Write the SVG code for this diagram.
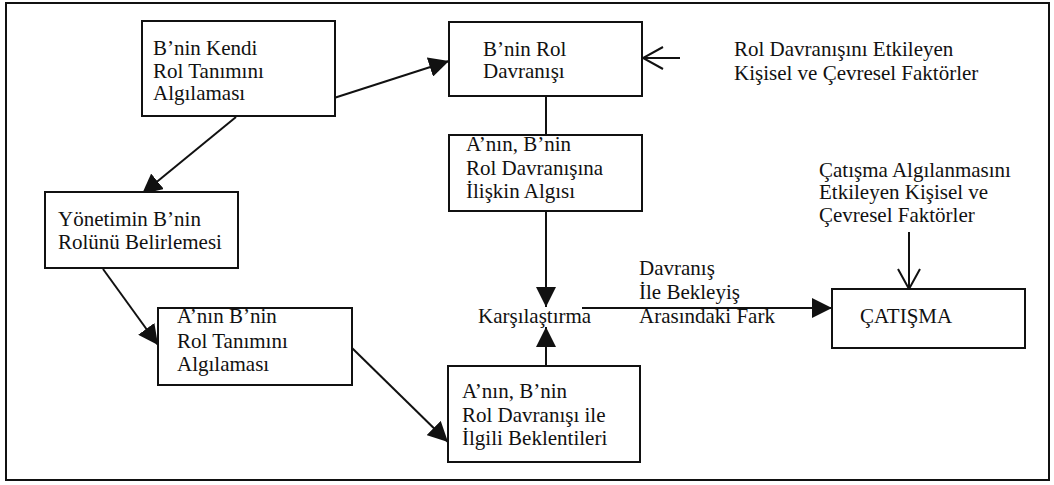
<svg xmlns="http://www.w3.org/2000/svg" width="1054" height="485" viewBox="0 0 1054 485">
<style>
.box{fill:#fff;stroke:#111;stroke-width:2}
.t{font-family:"Liberation Serif","Times New Roman",serif;font-size:21px;fill:#111}
.ln{stroke:#111;stroke-width:2;fill:none}
</style>
<defs>
<marker id="fa" markerWidth="20" markerHeight="20" refX="20" refY="10" orient="auto" markerUnits="userSpaceOnUse" viewBox="0 0 20 20">
<path d="M0,0 L20,10 L0,20 Z" fill="#111"/>
</marker>
<marker id="oa" markerWidth="24" markerHeight="26" refX="22" refY="13" orient="auto" markerUnits="userSpaceOnUse" viewBox="0 0 24 26">
<path d="M2,2 L22,13 L2,24" fill="none" stroke="#111" stroke-width="2"/>
</marker>
</defs>
<rect x="0" y="0" width="1054" height="485" fill="#fff"/>
<rect x="6" y="3" width="1043" height="477" fill="none" stroke="#111" stroke-width="2"/>

<g id="connectors">
<line class="ln" x1="334" y1="98" x2="449" y2="61" marker-end="url(#fa)"/>
<line class="ln" x1="236" y1="117" x2="142" y2="194" marker-end="url(#fa)"/>
<line class="ln" x1="103" y1="269" x2="158" y2="345" marker-end="url(#fa)"/>
<line class="ln" x1="352" y1="348" x2="448" y2="442" marker-end="url(#fa)"/>
<line class="ln" x1="546" y1="96" x2="546" y2="135"/>
<line class="ln" x1="546" y1="211" x2="546" y2="307" marker-end="url(#fa)"/>
<line class="ln" x1="546" y1="366" x2="546" y2="327" marker-end="url(#fa)"/>
<line class="ln" x1="582" y1="308" x2="832" y2="308" marker-end="url(#fa)"/>
<line class="ln" x1="680" y1="58" x2="643" y2="58" marker-end="url(#oa)"/>
<line class="ln" x1="909" y1="232" x2="909" y2="289" marker-end="url(#oa)"/>
</g>

<g id="n1">
<rect class="box" x="142" y="21" width="193" height="95"/>
<text class="t" x="153" y="55">B’nin Kendi</text>
<text class="t" x="153" y="78">Rol  Tanımını</text>
<text class="t" x="153" y="100">Algılaması</text>
</g>
<g id="n2">
<rect class="box" x="449" y="22" width="193" height="74"/>
<text class="t" x="483" y="56">B’nin Rol</text>
<text class="t" x="483" y="78">Davranışı</text>
</g>
<g id="n3">
<rect class="box" x="449" y="135" width="193" height="76"/>
<text class="t" x="466" y="151">A’nın, B’nin</text>
<text class="t" x="466" y="175">Rol Davranışına</text>
<text class="t" x="466" y="198">İlişkin Algısı</text>
</g>
<g id="n4">
<rect class="box" x="45" y="192" width="193" height="76"/>
<text class="t" x="58" y="226">Yönetimin B’nin</text>
<text class="t" x="58" y="249">Rolünü Belirlemesi</text>
</g>
<g id="n5">
<rect class="box" x="158" y="308" width="194" height="77"/>
<text class="t" x="177" y="323">A’nın B’nin</text>
<text class="t" x="177" y="348">Rol Tanımını</text>
<text class="t" x="177" y="371">Algılaması</text>
</g>
<g id="n6">
<rect class="box" x="448" y="366" width="192" height="96"/>
<text class="t" x="462" y="398">A’nın, B’nin</text>
<text class="t" x="462" y="422">Rol Davranışı ile</text>
<text class="t" x="462" y="445">İlgili Beklentileri</text>
</g>
<g id="n7">
<text class="t" x="478" y="323">Karşılaştırma</text>
</g>
<g id="n8">
<rect class="box" x="832" y="289" width="193" height="59"/>
<text class="t" x="860" y="323">ÇATIŞMA</text>
</g>
<g id="n9">
<text class="t" x="734" y="56">Rol Davranışını Etkileyen</text>
<text class="t" x="734" y="80">Kişisel ve Çevresel Faktörler</text>
</g>
<g id="n10">
<text class="t" x="819" y="177">Çatışma Algılanmasını</text>
<text class="t" x="819" y="199">Etkileyen Kişisel ve</text>
<text class="t" x="819" y="222">Çevresel Faktörler</text>
</g>
<g id="n11">
<text class="t" x="639" y="275">Davranış</text>
<text class="t" x="639" y="299">İle Bekleyiş</text>
<text class="t" x="639" y="323">Arasındaki Fark</text>
</g>
</svg>
